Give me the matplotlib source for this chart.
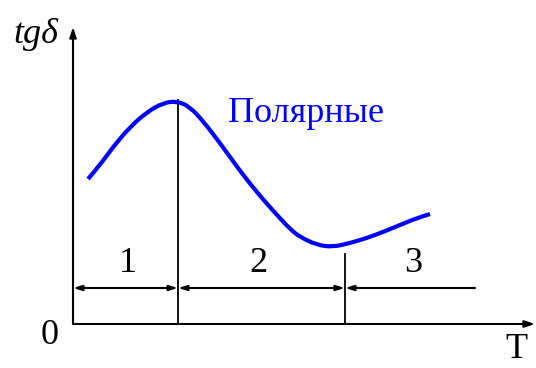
import matplotlib
matplotlib.use("Agg")
import matplotlib.pyplot as plt
from matplotlib.path import Path
from matplotlib.patches import PathPatch

# кривая tg delta (T) - схематично
T = [1.5, 2.7, 4.0, 5.7, 7.4, 9.0, 10.4, 11.7, 13.0, 14.7, 16.7, 18.7,
     20.4, 21.7, 22.7, 24.4, 26.0, 27.7, 29.4, 31.0, 32.7, 34.4, 35.7]
tgd = [14.5, 15.9, 17.7, 19.7, 21.2, 22.1, 22.3, 21.7, 20.3, 18.1, 15.3, 12.8,
       10.9, 9.5, 8.7, 7.9, 7.7, 8.1, 8.6, 9.2, 9.9, 10.6, 11.0]

borders = [0, 10.5, 27.2, 40.2]   # границы областей 1, 2, 3
border_tops = [22.4, 7.0]
region_labels = ["1", "2", "3"]
curve_label = "Полярные"

fig = plt.figure(figsize=(5.36, 3.68), dpi=100)
ax = fig.add_axes([0, 0, 1, 1])
ax.set_xlim(-7.3, 46.3)
ax.set_ylim(-4.4, 32.4)
ax.axis("off")

serif = ["Liberation Serif", "DejaVu Serif"]
fs = 26

# оси со стрелками
for tip in [(46.2, 0), (0, 29.7)]:
    ax.annotate("", xy=tip, xytext=(0, 0),
                arrowprops=dict(arrowstyle="-|>,head_length=0.6,head_width=0.2", lw=1.5,
                                color="black", shrinkA=0, shrinkB=0))

# сглаженная кривая: точки как контрольные для квадратичных сегментов
pts = list(zip(T, tgd))
verts = [pts[0]]
codes = [Path.MOVETO]
for i in range(1, len(pts) - 1):
    mid = ((pts[i][0] + pts[i + 1][0]) / 2, (pts[i][1] + pts[i + 1][1]) / 2)
    if i == len(pts) - 2:
        mid = pts[-1]
    verts += [pts[i], mid]
    codes += [Path.CURVE3, Path.CURVE3]
ax.add_patch(PathPatch(Path(verts, codes), fill=False, edgecolor="#0000ff", lw=3,
                       capstyle="butt", zorder=3))

for x, top in zip(borders[1:3], border_tops):
    ax.plot([x, x], [0, top], color="black", lw=1.3)

y_arr = 3.6
ast = "<|-|>,head_length=0.5,head_width=0.15"
ax.annotate("", xy=(borders[1], y_arr), xytext=(borders[0], y_arr),
            arrowprops=dict(arrowstyle=ast, lw=1.5, color="black", shrinkA=0, shrinkB=0))
ax.annotate("", xy=(borders[2], y_arr), xytext=(borders[1], y_arr),
            arrowprops=dict(arrowstyle=ast, lw=1.5, color="black", shrinkA=0, shrinkB=0))
ax.annotate("", xy=(borders[2], y_arr), xytext=(borders[3], y_arr),
            arrowprops=dict(arrowstyle="-|>,head_length=0.5,head_width=0.15", lw=1.5,
                            color="black", shrinkA=0, shrinkB=0))

label_x = [5.5, 18.5, 34.0]
for xc, lab in zip(label_x, region_labels):
    ax.text(xc, 6.0, lab, ha="center", va="center", fontsize=fs, family=serif)

ax.text(15.5, 20.2, curve_label, color="#0000ff", fontsize=fs, family=serif,
        ha="left", va="baseline")
ax.text(-1.5, 28.1, "tgδ", fontsize=fs, family=serif, style="italic",
        ha="right", va="baseline")
ax.text(-2.3, -1.1, "0", fontsize=fs, family=serif, ha="center", va="center")
ax.text(44.3, -2.6, "T", fontsize=fs, family=serif, ha="center", va="center")

fig.savefig("out.png", dpi=100)
